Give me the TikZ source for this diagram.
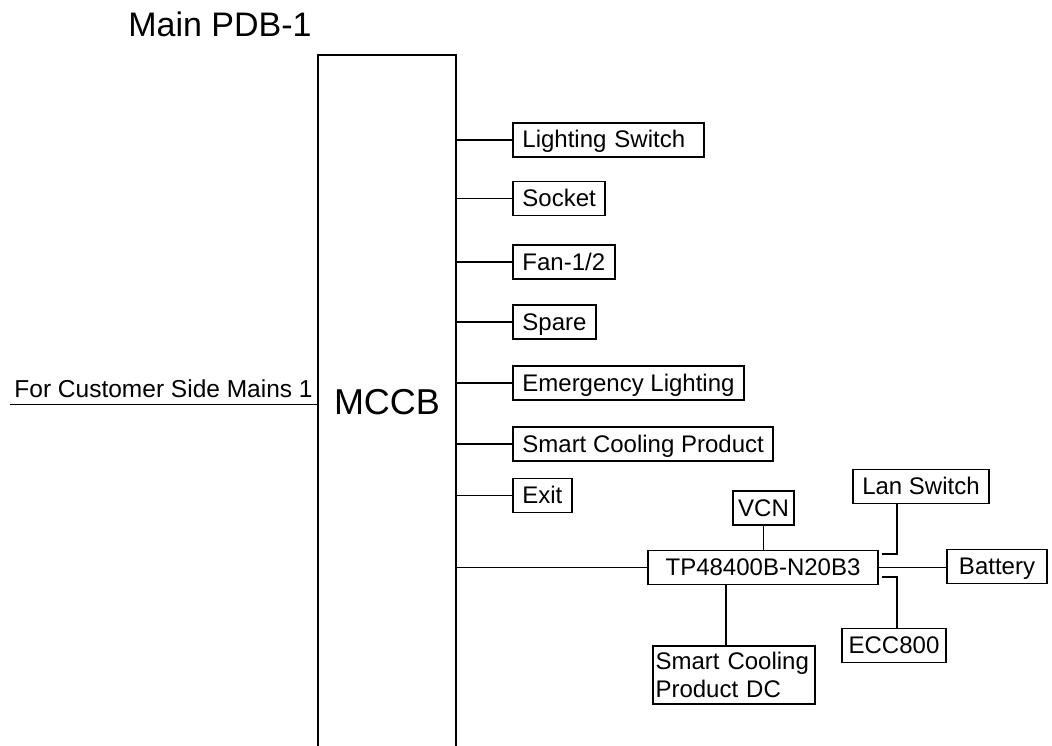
\documentclass[tikz,border=0pt]{standalone}
\usepackage{fontspec}
\setmainfont{Liberation Sans}
\usepackage{tikz}
\usetikzlibrary{positioning}

\begin{document}
\begin{tikzpicture}[
  x=1pt, y=-1pt,
  wire/.style={line width=1.8pt, draw=black},
  load/.style={draw=black, line width=1.8pt, inner xsep=9.5pt, inner ysep=6pt,
               text height=19pt, text depth=3pt, anchor=west,
               font=\fontsize{24}{28}\selectfont},
  unit/.style={load, anchor=center}
]
  \useasboundingbox (0,0) rectangle (1052,746);

  % Title and breaker
  \node[anchor=base, font=\fontsize{34}{40}\selectfont] (title) at (220,37) {Main PDB-1};
  \node[draw=black, line width=1.8pt, minimum width=138pt, minimum height=695pt,
        font=\fontsize{36}{42}\selectfont] (mccb) at (387,402.5) {MCCB};

  % Incoming supply
  \coordinate (src) at (10,404.5);
  \draw[wire] (src) -- (src -| mccb.west)
    node[midway, above, inner ysep=6pt, font=\fontsize{24.5}{28}\selectfont] (srclbl) {For Customer Side Mains 1};

  % Outgoing loads
  \node[load, text width=172pt] (lsw)   at (512,140)   {Lighting Switch};
  \node[load]                   (sock)  at (512,198.5) {Socket};
  \node[load]                   (fan)   at (512,262)   {Fan-1/2};
  \node[load]                   (spare) at (512,322)   {Spare};
  \node[load]                   (emg)   at (512,383)   {Emergency Lighting};
  \node[load]                   (scp)   at (512,444)   {Smart Cooling Product};
  \node[load]                   (exit)  at (512,495.5) {Exit};

  \foreach \n in {lsw,sock,fan,spare,emg,scp,exit}
    \draw[wire] (mccb.east |- \n.west) -- (\n.west);

  % DC power system
  \node[unit, minimum width=230pt] (tp)  at (763,567.5) {TP48400B-N20B3};
  \node[unit, inner xsep=5pt]      (vcn) at (763.5,508) {VCN};
  \node[unit]                      (lan) at (921,486.5) {Lan Switch};
  \node[unit, inner xsep=12pt]     (bat) at (997,566.5) {Battery};
  \node[unit, inner xsep=7pt]      (ecc) at (894,645.5) {ECC800};
  \node[draw=black, line width=1.8pt, align=left, text width=157pt, inner xsep=2.5pt,
        minimum height=58pt, font=\fontsize{24}{28}\selectfont] (scpdc) at (734,675) {Smart Cooling\\Product DC};

  \draw[wire] (mccb.east |- tp.west) -- (tp.west);
  \draw[wire] (vcn.south) -- (vcn.south |- tp.north);
  \draw[wire] (tp.east) -- (tp.east -| bat.west);
  \draw[wire] ([xshift=-24pt]lan.south) |- ([xshift=3pt,yshift=13.5pt]tp.east);
  \draw[wire] ([xshift=3pt]ecc.north) |- ([xshift=3pt,yshift=-9.5pt]tp.east);
  \draw[wire] (scpdc.north -| 726,0) -- (tp.south -| 726,0);
\end{tikzpicture}
\end{document}
